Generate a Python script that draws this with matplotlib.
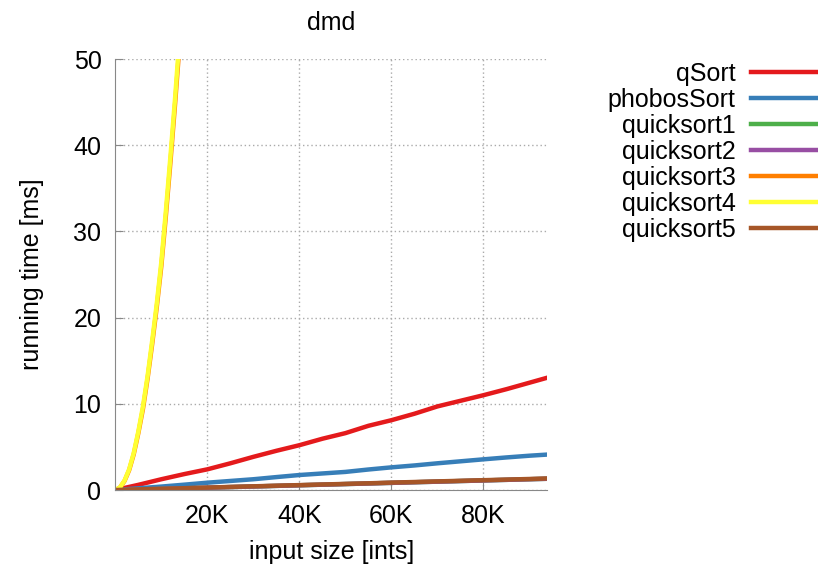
import matplotlib.pyplot as plt

plt.rcParams['font.family'] = ['Liberation Sans', 'DejaVu Sans']

# input sizes for the linear-ish series
sizes = [0, 5000, 10000, 15000, 20000, 25000, 30000, 35000, 40000, 45000,
         50000, 55000, 60000, 65000, 70000, 75000, 80000, 85000, 90000, 95000]
qsort = [0, 0.6, 1.25, 1.85, 2.4, 3.1, 3.85, 4.55, 5.2, 5.95,
         6.6, 7.45, 8.1, 8.85, 9.7, 10.35, 11.0, 11.7, 12.45, 13.2]
phobos = [0, 0.2, 0.4, 0.62, 0.85, 1.05, 1.25, 1.5, 1.74, 1.92,
          2.1, 2.38, 2.63, 2.85, 3.1, 3.33, 3.56, 3.78, 3.98, 4.15]
quick1 = [0, 0.06, 0.13, 0.2, 0.27, 0.34, 0.41, 0.48, 0.55, 0.62,
          0.69, 0.76, 0.83, 0.9, 0.97, 1.04, 1.11, 1.18, 1.25, 1.32]
quick2 = [0, 0.06, 0.13, 0.2, 0.27, 0.34, 0.41, 0.48, 0.55, 0.62,
          0.69, 0.76, 0.83, 0.9, 0.97, 1.04, 1.11, 1.18, 1.25, 1.32]
quick5 = [0, 0.07, 0.14, 0.21, 0.28, 0.36, 0.43, 0.5, 0.57, 0.64,
          0.71, 0.78, 0.86, 0.93, 1.0, 1.07, 1.14, 1.21, 1.28, 1.36]

# the quadratic ones shoot off the top quickly
sizes_q = [0, 1000, 2000, 3000, 4000, 5000, 6000, 7000, 8000, 9000,
           10000, 11000, 12000, 13000, 14000]
quick3 = [0, 0.28, 1.05, 2.3, 4.15, 6.6, 9.4, 12.9, 16.9, 21.2,
          26.0, 31.9, 38.2, 44.9, 52.0]
quick4 = [0, 0.3, 1.1, 2.4, 4.3, 6.8, 9.7, 13.2, 17.3, 21.6,
          26.5, 32.5, 38.9, 45.6, 52.9]

xticks = [20000, 40000, 60000, 80000]
xtick_labels = ['20K', '40K', '60K', '80K']
yticks = [0, 10, 20, 30, 40, 50]

fig = plt.figure(figsize=(8.18, 5.68), dpi=100)
ax = fig.add_axes([0.141, 0.1373, 0.5277, 0.7588])

lw = 3.2
ax.plot(sizes, qsort, color='#e41a1c', lw=lw, label='qSort')
ax.plot(sizes, phobos, color='#377eb8', lw=lw, label='phobosSort')
ax.plot(sizes, quick1, color='#4daf4a', lw=lw, label='quicksort1')
ax.plot(sizes, quick2, color='#984ea3', lw=lw, label='quicksort2')
ax.plot(sizes_q, quick3, color='#ff7f00', lw=lw, label='quicksort3')
ax.plot(sizes_q, quick4, color='#ffff33', lw=lw, label='quicksort4')
ax.plot(sizes, quick5, color='#a65628', lw=lw, label='quicksort5')

ax.set_xlim(0, 93800)
ax.set_ylim(0, 50)
ax.set_xticks(xticks)
ax.set_xticklabels(xtick_labels)
ax.set_yticks(yticks)
ax.tick_params(direction='in', length=6, color='#888888', labelsize=18, pad=10)
ax.grid(True, color='#aaaaaa', linestyle=(0, (1, 2)), linewidth=1)
for s in ['top', 'right']:
    ax.spines[s].set_visible(False)
for s in ['left', 'bottom']:
    ax.spines[s].set_color('#888888')

ax.set_xlabel('input size [ints]', fontsize=18, labelpad=9)
ax.set_ylabel('running time [ms]', fontsize=18, labelpad=21)
ax.set_title('dmd', fontsize=18, pad=21)

ax.legend(loc='upper right', bbox_to_anchor=(1.0, 0.891), bbox_transform=fig.transFigure,
          frameon=False, markerfirst=False, fontsize=18, handlelength=2.7,
          handletextpad=0.6, labelspacing=0.08, borderpad=0, borderaxespad=0)

fig.savefig('out.png', dpi=100)
